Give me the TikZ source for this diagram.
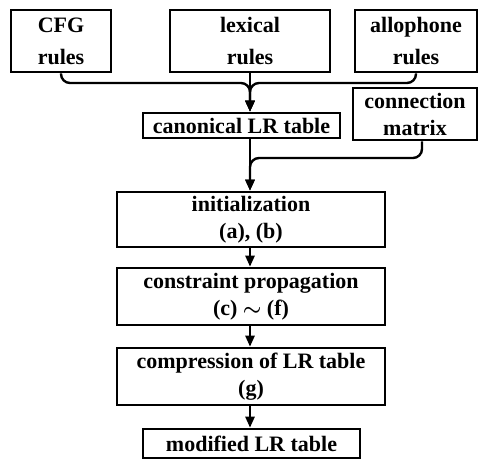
\documentclass[tikz,border=0pt]{standalone}
\usepackage{fontspec}
\setmainfont{Liberation Serif}
\usepackage{tikz}
\usetikzlibrary{positioning}
\usetikzlibrary{arrows.meta}

\tikzset{
  box/.style={draw, line width=2.6pt, align=center, inner sep=0pt,
    font=\fontsize{22}{27}\selectfont\bfseries\boldmath},
  flow/.style={line width=2.4pt, rounded corners=9pt,
    -{Triangle[length=11pt,width=9pt]}},
}

\begin{document}
\begin{tikzpicture}[x=1pt,y=1pt]
      \useasboundingbox (0,0) rectangle (489,-459);
      \node[box, minimum width=100, minimum height=62] (cfg) at (61,-41) {CFG\\[5pt]rules};
      \node[box, minimum width=160, minimum height=62] (lex) at (250,-41) {lexical\\[5pt]rules};
      \node[box, minimum width=122, minimum height=62] (allo) at (416,-41) {allophone\\[5pt]rules};
      \node[box, minimum width=197, minimum height=25] (canon) at (241.5,-125.5) {canonical LR table};
      \node[box, minimum width=124, minimum height=52] (conn) at (415,-114) {connection\\matrix};
      \node[box, minimum width=268, minimum height=55] (init) at (251,-219.5) {initialization\\(a), (b)};
      \node[box, minimum width=268, minimum height=57] (prop) at (251,-296.5) {constraint propagation\\(c) $\sim$ (f)};
      \node[box, minimum width=268, minimum height=57] (comp) at (251,-376.5) {compression of LR table\\(g)};
      \node[box, minimum width=217, minimum height=29] (modt) at (251.5,-443.5) {modified LR table};
      \coordinate (join1) at (250,-83);
      \coordinate (join2) at (250,-158);
      \draw[flow] (cfg.south) |- (join1) -- (canon.north -| join1);
      \draw[flow] (allo.south) |- (join1) -- (canon.north -| join1);
      \draw[flow, rounded corners=0pt] (lex.south -| join1) -- (canon.north -| join1);
      \draw[flow] (canon.south -| join2) -- (init.north -| join2);
      \draw[flow] (conn.south -| 422,0) |- (join2) -- (init.north -| join2);
      \draw[flow] (init.south -| join2) -- (prop.north -| join2);
      \draw[flow] (prop.south -| join2) -- (comp.north -| join2);
      \draw[flow] (comp.south -| join2) -- (modt.north -| join2);
    \end{tikzpicture}
\end{document}
